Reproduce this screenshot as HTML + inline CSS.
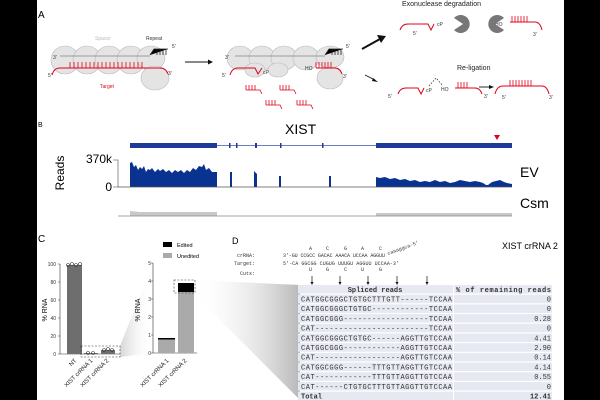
<!DOCTYPE html>
<html><head><meta charset="utf-8"><style>
html,body{margin:0;padding:0;background:#000;}
svg{display:block;}
text{font-family:"Liberation Sans",sans-serif;}
.m{font-family:"Liberation Mono",monospace;}
</style></head><body>
<svg width="600" height="400" viewBox="0 0 600 400" xmlns="http://www.w3.org/2000/svg">
<defs>
<linearGradient id="g1" x1="0" x2="1"><stop offset="0" stop-color="#bbb"/><stop offset="1" stop-color="#fff" stop-opacity="0"/></linearGradient>
<linearGradient id="g2" x1="1" x2="0"><stop offset="0" stop-color="#999"/><stop offset="1" stop-color="#fff" stop-opacity="0"/></linearGradient>
</defs>
<rect x="37" y="0" width="527" height="400" fill="#fff"/>
<!-- Panel A -->
<text x="38" y="18" font-size="10">A</text>
<g fill="#e4e4e4" stroke="#bbb" stroke-width="0.6">
<ellipse cx="65" cy="60" rx="14" ry="14"/><ellipse cx="87" cy="60" rx="14" ry="14"/><ellipse cx="109" cy="60" rx="14" ry="14"/><ellipse cx="131" cy="60" rx="14" ry="14"/><ellipse cx="151" cy="58" rx="14" ry="12"/><ellipse cx="155" cy="78" rx="14" ry="12"/>
<ellipse cx="240" cy="58" rx="13" ry="12"/><ellipse cx="262" cy="58" rx="13" ry="12"/><ellipse cx="284" cy="58" rx="13" ry="12"/><ellipse cx="306" cy="58" rx="13" ry="12"/><ellipse cx="330" cy="57" rx="14" ry="11"/><ellipse cx="330" cy="78" rx="13" ry="11"/>
<ellipse cx="255" cy="70" rx="10" ry="7"/><ellipse cx="278" cy="70" rx="10" ry="7"/>
</g>
<g stroke="#555" stroke-width="0.6">
<line x1="60" y1="56" x2="150" y2="56"/><line x1="235" y1="56" x2="325" y2="56"/>
</g>
<g stroke="#e0001a" stroke-width="1" fill="none">
<path d="M52 75 Q54 68 60 68 L160 68 Q166 68 168 74"/>
<path d="M230 75 Q232 68 238 68 L255 68 L258 74 L262 68 M316 68 L335 68 Q340 68 342 74"/>
<path d="M400 30 Q402 24 408 24 L428 24 L431 30 L434 24"/>
<path d="M510 22 L535 22 Q540 22 542 30"/>
<path d="M398 94 Q400 88 406 88 L418 88 L421 94 L424 88 M455 88 L475 88 Q480 88 482 94"/>
<path d="M495 94 Q497 86 503 86 L542 86 Q547 86 549 94"/>
</g>
<g stroke="#e0001a" stroke-width="0.8">
<path d="M70 62v6M74 62v6M78 62v6M82 62v6M86 62v6M90 62v6M94 62v6M98 62v6M102 62v6M106 62v6M110 62v6M114 62v6M118 62v6M122 62v6M126 62v6M130 62v6M134 62v6M138 62v6M142 62v6"/>
<path d="M316 62v6M319 62v6M322 62v6M325 62v6M328 62v6M331 62v6"/>
<path d="M512 16v6M515 16v6M518 16v6M521 16v6M524 16v6M527 16v6"/>
<path d="M510 80v6M513 80v6M516 80v6M519 80v6M522 80v6M525 80v6M528 80v6M531 80v6"/>
<path d="M458 82v6M461 82v6M464 82v6M467 82v6"/>
<path d="M246 85v5M249 85v5M252 85v5M255 85v5 M280 85v5M283 85v5M286 85v5M289 85v5 M266 100v5M269 100v5M272 100v5M275 100v5 M297 100v5M300 100v5M303 100v5M306 100v5"/>
<path d="M246 90h14l2 4 M280 90h14l2 4 M266 105h14l2 4 M297 105h14l2 4" fill="none"/>
</g>
<g stroke="#222" stroke-width="0.8">
<path d="M150 55 l4-6 l14 0 M157 49v6M160 49v6M163 49v6M166 49v6"/>
<path d="M325 55 l4-6 l14 0 M332 49v6M335 49v6M338 49v6M341 49v6"/>
</g>
<text x="95" y="40" font-size="5" fill="#bbb">Spacer</text>
<text x="146" y="40" font-size="5" fill="#333">Repeat</text>
<text x="100" y="88" font-size="5" fill="#e0001a">Target</text>
<g font-size="5" fill="#333">
<text x="53" y="59">3'</text><text x="48" y="77">5'</text><text x="168" y="75">3'</text><text x="172" y="48">5'</text>
<text x="225" y="59">3'</text><text x="222" y="77">5'</text><text x="343" y="78">3'</text><text x="346" y="48">5'</text>
<text x="413" y="35">5'</text><text x="533" y="36">3'</text><text x="388" y="98">5'</text><text x="484" y="98">3'</text><text x="502" y="99">5'</text><text x="549" y="99">3'</text>
<text x="263" y="74">cP</text><text x="305" y="70">HO</text><text x="437" y="26">cP</text><text x="495" y="26">HO</text><text x="426" y="92">cP</text><text x="441" y="91">HO</text>
</g>
<line x1="185" y1="62" x2="208" y2="62" stroke="#111" stroke-width="0.9"/><path d="M208 59.5 L213 62 L208 64.5Z" fill="#111"/>
<line x1="362" y1="49" x2="380" y2="39" stroke="#111" stroke-width="2"/><path d="M377 35 L386 36 L381 43Z" fill="#111"/>
<line x1="365" y1="75" x2="375" y2="80" stroke="#111" stroke-width="0.8"/><path d="M373 78 L378 82 L372 81Z" fill="#111"/>
<line x1="479" y1="87" x2="490" y2="87" stroke="#111" stroke-width="0.9"/><path d="M489 85 L494 87 L489 89Z" fill="#111"/>
<path d="M429 86 L436 78 L443 86" stroke="#333" stroke-width="0.8" fill="none" stroke-dasharray="1.5,1.5"/>
<text x="402" y="6" font-size="7" fill="#222">Exonuclease degradation</text>
<text x="457" y="70" font-size="7" fill="#222">Re-ligation</text>
<path d="M463 24 L472 18 A9 9 0 1 0 472 30 Z" fill="#777" transform="rotate(180 463 24)"/>
<path d="M495 24 L504 18 A9 9 0 1 0 504 30 Z" fill="#777"/>
<!-- Panel B -->
<text x="38" y="127" font-size="7">B</text>
<text x="285" y="134" font-size="14">XIST</text>
<line x1="130" y1="145.5" x2="512" y2="145.5" stroke="#6a7fc8" stroke-width="1"/>
<rect x="130" y="143" width="87" height="5" fill="#1e3a98"/>
<rect x="376" y="143" width="136" height="5" fill="#1e3a98"/>
<g fill="#1e3a98"><rect x="229" y="143" width="1.5" height="5"/><rect x="236" y="143" width="1.5" height="5"/><rect x="255" y="143" width="2" height="5"/><rect x="280" y="143" width="1.5" height="5"/><rect x="322" y="143" width="1.5" height="5"/></g>
<path d="M494 135 L500 135 L497 140Z" fill="#e0001a"/>
<text x="112" y="163" font-size="12" text-anchor="end">370k</text>
<text x="112" y="191" font-size="12" text-anchor="end">0</text>
<path d="M113 160 H118 V187 H113" stroke="#777" fill="none" stroke-width="0.8"/>
<text transform="translate(64,173) rotate(-90)" font-size="12" text-anchor="middle">Reads</text>
<path fill="#0a3290" d="M130 187 L130 163 L132 162 L134 167 L136 165 L138 170 L140 167 L142 169 L144 166 L146 172 L148 169 L150 170 L152 168 L155 172 L158 169 L160 171 L163 169 L166 172 L169 170 L172 173 L175 170 L178 172 L181 170 L184 173 L187 170 L190 172 L193 168 L196 170 L199 166 L202 167 L204 164 L206 170 L209 168 L212 172 L217 172 L217 187 Z M230 187 V172 H232 V187Z M254 187 V171 L257 174 V187Z M279 187 V176 H281 V187Z M329 187 V176 H331 V187Z M376 187 L376 177 L380 178 L385 177 L390 179 L395 178 L400 180 L405 179 L410 181 L415 180 L420 182 L425 181 L430 182 L435 180 L440 182 L445 181 L450 183 L455 182 L460 180 L465 181 L470 182 L475 181 L480 182 L483 183 L486 185 L488 185 L492 182 L496 181 L500 180 L504 182 L507 183 L512 184 L512 187 Z"/>
<line x1="118" y1="187" x2="512" y2="187" stroke="#555" stroke-width="0.8"/>
<text x="520" y="177" font-size="14">EV</text>
<text x="520" y="208" font-size="14">Csm</text>
<path fill="#c8c8c8" d="M130 216 V211 L140 212 L217 212 V216Z M376 216 V213 H512 V216Z"/>
<line x1="118" y1="216" x2="512" y2="216" stroke="#888" stroke-width="0.8"/>
<!-- Panel C -->
<text x="38" y="242" font-size="10">C</text>
<polygon points="120,346 153,263 153,353 120,357" fill="url(#g1)" opacity="0.6"/>
<polygon points="193,280 300,285 300,400 193,293" fill="url(#g2)" opacity="0.7"/>
<g font-size="5" text-anchor="end" fill="#333">
<text x="56" y="266">100</text><text x="56" y="284">80</text><text x="56" y="302">60</text><text x="56" y="320">40</text><text x="56" y="338">20</text><text x="56" y="356">0</text>
</g>
<path d="M58 264H60M58 282H60M58 300H60M58 318H60M58 336H60M58 354H60M60 264V354H120" stroke="#333" stroke-width="0.6" fill="none"/>
<rect x="67" y="265" width="15" height="89" fill="#6e6e6e"/>
<rect x="84" y="353" width="14" height="1" fill="#6e6e6e"/>
<rect x="101" y="350" width="14" height="4" fill="#6e6e6e"/>
<g fill="none" stroke="#333" stroke-width="0.6"><circle cx="68" cy="265" r="1.5"/><circle cx="72" cy="264" r="1.5"/><circle cx="76" cy="265" r="1.5"/><circle cx="80" cy="264" r="1.5"/><circle cx="88" cy="353" r="1.5"/><circle cx="93" cy="353" r="1.5"/><circle cx="104" cy="350" r="1.5"/><circle cx="108" cy="349" r="1.5"/><circle cx="112" cy="350" r="1.5"/></g>
<rect x="81" y="346" width="39" height="11" fill="none" stroke="#333" stroke-width="0.6" stroke-dasharray="2,1.5"/>
<text transform="translate(47,310) rotate(-90)" font-size="7" text-anchor="middle">% RNA</text>
<g font-size="6" text-anchor="end" fill="#222">
<text transform="translate(77,361) rotate(-45)">NT</text>
<text transform="translate(93,361) rotate(-45)">XIST crRNA 1</text>
<text transform="translate(109,361) rotate(-45)">XIST crRNA 2</text>
<text transform="translate(169,361) rotate(-45)">XIST crRNA 1</text>
<text transform="translate(187,361) rotate(-45)">XIST crRNA 2</text>
</g>
<g font-size="5" text-anchor="end" fill="#333">
<text x="151" y="265">5</text><text x="151" y="283">4</text><text x="151" y="301">3</text><text x="151" y="319">2</text><text x="151" y="337">1</text><text x="151" y="355">0</text>
</g>
<path d="M151 263H153M151 281H153M151 299H153M151 317H153M151 335H153M151 353H153M153 263V353H197" stroke="#333" stroke-width="0.6" fill="none"/>
<rect x="158" y="339" width="17" height="14" fill="#aaa"/><rect x="158" y="338" width="17" height="1.5" fill="#000"/>
<rect x="178" y="283" width="16" height="70" fill="#aaa"/><rect x="178" y="283" width="16" height="9" fill="#000"/>
<rect x="174" y="280" width="21" height="13" fill="none" stroke="#333" stroke-width="0.6" stroke-dasharray="2,1.5"/>
<text transform="translate(140,310) rotate(-90)" font-size="7" text-anchor="middle">% RNA</text>
<rect x="163" y="242" width="9" height="5" fill="#000"/><text x="177" y="247" font-size="5.5">Edited</text>
<rect x="163" y="253" width="9" height="5" fill="#aaa"/><text x="177" y="258" font-size="5.5">Unedited</text>
<!-- Panel D -->
<text x="232" y="244" font-size="9">D</text>
<g class="m" font-size="5" fill="#333">
<text class="m" x="255" y="257" text-anchor="end">crRNA:</text>
<text class="m" x="255" y="265" text-anchor="end">Target:</text>
<text class="m" x="255" y="275" text-anchor="end">Cuts:</text>
<text class="m" x="283" y="257" textLength="102" xml:space="preserve">3'-GU CCGCC GACAC AAACA UCCAA AGGUU</text>
<text class="m" x="283" y="265" textLength="116" xml:space="preserve">5'-CA GGCGG CUGUG UUUGU AGGUU UCCAA-3'</text>
<text class="m" x="309" y="250">A</text><text class="m" x="326" y="250">C</text><text class="m" x="344" y="250">G</text><text class="m" x="361" y="250">A</text><text class="m" x="379" y="250">C</text>
<text class="m" x="309" y="271">U</text><text class="m" x="326" y="271">G</text><text class="m" x="344" y="271">C</text><text class="m" x="361" y="271">U</text><text class="m" x="379" y="271">G</text>
<text class="m" transform="translate(388,255) rotate(-20)">caaaggca-5'</text>
</g>
<text x="502" y="249" font-size="9">XIST crRNA 2</text>
<g stroke="#111" stroke-width="0.7">
<path d="M312 276V283M340 276V283M368 276V283M397 276V283M427 276V283"/>
</g>
<g fill="#111"><path d="M310.5 282h3l-1.5 3z M338.5 282h3l-1.5 3z M366.5 282h3l-1.5 3z M395.5 282h3l-1.5 3z M425.5 282h3l-1.5 3z"/></g>
<g fill="#e6e8f2">
<rect x="298" y="285" width="155" height="8.5"/><rect x="454" y="285" width="98" height="8.5"/>
<rect x="298" y="294.7" width="155" height="8.5"/><rect x="454" y="294.7" width="98" height="8.5"/>
<rect x="298" y="304.4" width="155" height="8.5"/><rect x="454" y="304.4" width="98" height="8.5"/>
<rect x="298" y="314.1" width="155" height="8.5"/><rect x="454" y="314.1" width="98" height="8.5"/>
<rect x="298" y="323.8" width="155" height="8.5"/><rect x="454" y="323.8" width="98" height="8.5"/>
<rect x="298" y="333.5" width="155" height="8.5"/><rect x="454" y="333.5" width="98" height="8.5"/>
<rect x="298" y="343.2" width="155" height="8.5"/><rect x="454" y="343.2" width="98" height="8.5"/>
<rect x="298" y="352.9" width="155" height="8.5"/><rect x="454" y="352.9" width="98" height="8.5"/>
<rect x="298" y="362.6" width="155" height="8.5"/><rect x="454" y="362.6" width="98" height="8.5"/>
<rect x="298" y="372.3" width="155" height="8.5"/><rect x="454" y="372.3" width="98" height="8.5"/>
<rect x="298" y="382" width="155" height="8.5"/><rect x="454" y="382" width="98" height="8.5"/>
<rect x="298" y="391.7" width="155" height="8.3"/><rect x="454" y="391.7" width="98" height="8.3"/>
</g>
<g class="m" font-size="7" fill="#333">
<text class="m" x="375" y="291.8" text-anchor="middle" font-weight="bold">Spliced reads</text>
<text class="m" x="456" y="291.8" font-weight="bold" textLength="95">% of remaining reads</text>
<text class="m" x="301" y="301.5" textLength="151">CATGGCGGGCTGTGCTTTGTT------TCCAA</text>
<text class="m" x="301" y="311.2" textLength="151">CATGGCGGGCTGTGC------------TCCAA</text>
<text class="m" x="301" y="320.9" textLength="151">CATGGCGGG------------------TCCAA</text>
<text class="m" x="301" y="330.6" textLength="151">CAT------------------------TCCAA</text>
<text class="m" x="301" y="340.3" textLength="151">CATGGCGGGCTGTGC------AGGTTGTCCAA</text>
<text class="m" x="301" y="350" textLength="151">CATGGCGGG------------AGGTTGTCCAA</text>
<text class="m" x="301" y="359.7" textLength="151">CAT------------------AGGTTGTCCAA</text>
<text class="m" x="301" y="369.4" textLength="151">CATGGCGGG------TTTGTTAGGTTGTCCAA</text>
<text class="m" x="301" y="379.1" textLength="151">CAT------------TTTGTTAGGTTGTCCAA</text>
<text class="m" x="301" y="388.8" textLength="151">CAT------CTGTGCTTTGTTAGGTTGTCCAA</text>
<text class="m" x="301" y="398.3" font-weight="bold">Total</text>
<g text-anchor="end">
<text class="m" x="551" y="301.5">0</text><text class="m" x="551" y="311.2">0</text><text class="m" x="551" y="320.9">0.28</text><text class="m" x="551" y="330.6">0</text><text class="m" x="551" y="340.3">4.41</text><text class="m" x="551" y="350">2.90</text><text class="m" x="551" y="359.7">0.14</text><text class="m" x="551" y="369.4">4.14</text><text class="m" x="551" y="379.1">0.55</text><text class="m" x="551" y="388.8">0</text><text class="m" x="551" y="398.3" font-weight="bold">12.41</text>
</g>
</g>
<rect x="564" y="0" width="36" height="400" fill="#000"/>
</svg>
</body></html>
